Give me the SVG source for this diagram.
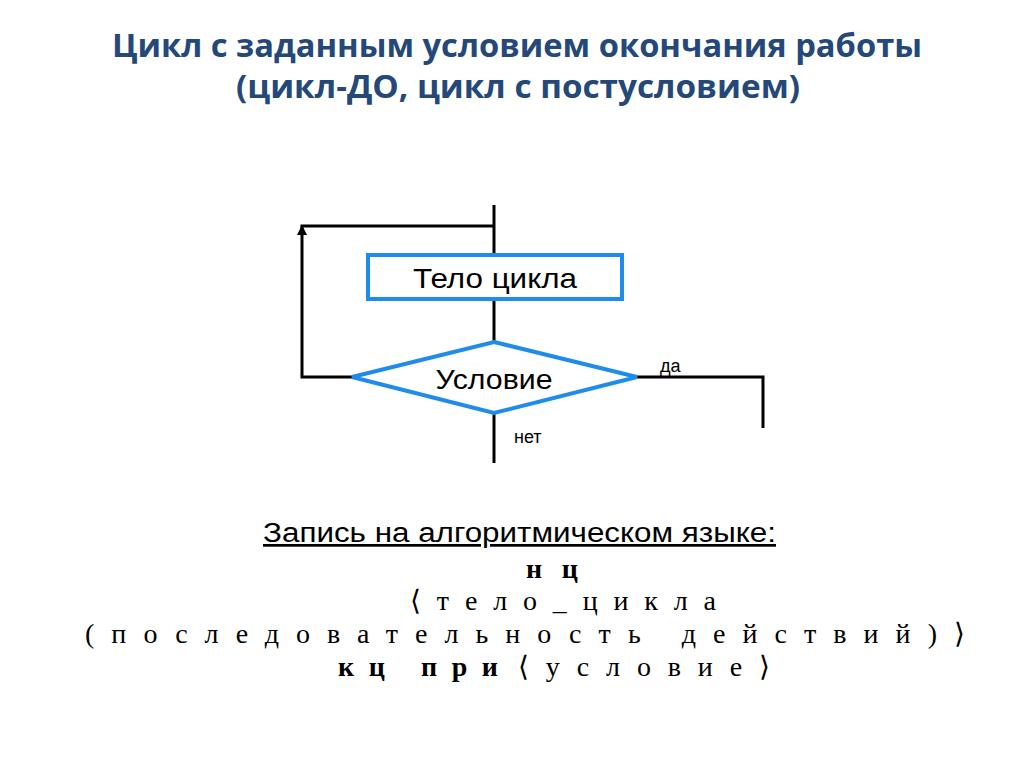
<svg xmlns="http://www.w3.org/2000/svg" width="1024" height="767" viewBox="0 0 1024 767">
<style>
.title{font-family:"Open Sans","Liberation Sans",sans-serif;font-weight:bold;font-size:32px;fill:#24487a;text-anchor:middle}
.conn{fill:none;stroke:#000;stroke-width:3}
.node{fill:#fff;stroke:#1f8ceb;stroke-width:4}
.lbl{font-family:"Liberation Sans",Arial,sans-serif;fill:#000}
.code{font-family:"Liberation Serif","Times New Roman",serif;font-size:28px;fill:#000}
.kw{font-weight:bold}
</style>
<defs>
<marker id="arr" viewBox="0 0 10 10" refX="9" refY="5" markerWidth="10" markerHeight="10" markerUnits="userSpaceOnUse" orient="auto">
<path d="M0,0 L10,5 L0,10 z" fill="#000"/>
</marker>
</defs>
<rect width="1024" height="767" fill="#fff"/>
<g id="title">
<text class="title" x="517" y="57" textLength="810" lengthAdjust="spacingAndGlyphs">Цикл с заданным условием окончания работы</text>
<text class="title" x="518" y="98" textLength="564" lengthAdjust="spacingAndGlyphs">(цикл-ДО, цикл с постусловием)</text>
</g>
<g id="connectors">
<line class="conn" x1="494" y1="205" x2="494" y2="255"/>
<line class="conn" x1="300.5" y1="226" x2="494" y2="226"/>
<line class="conn" x1="494" y1="299" x2="494" y2="342"/>
<polyline class="conn" points="352,377 302,377 302,226" marker-end="url(#arr)"/>
<polyline class="conn" points="637,377 763,377 763,428"/>
<line class="conn" x1="494" y1="413" x2="494" y2="463"/>
<text class="lbl" x="660" y="372" font-size="18">да</text>
<text class="lbl" x="514" y="443" font-size="18">нет</text>
</g>
<g id="body">
<rect class="node" x="368" y="255" width="254" height="44"/>
<text class="lbl" x="495" y="288" font-size="28" text-anchor="middle" textLength="164" lengthAdjust="spacingAndGlyphs">Тело цикла</text>
</g>
<g id="condition">
<polygon class="node" points="494,342 637,377 494,413 352,377"/>
<text class="lbl" x="494" y="389" font-size="28" text-anchor="middle" textLength="117" lengthAdjust="spacingAndGlyphs">Условие</text>
</g>
<g id="code">
<text class="lbl" x="263" y="542" font-size="27" textLength="513" lengthAdjust="spacingAndGlyphs" text-decoration="underline">Запись на алгоритмическом языке:</text>
<text class="code kw" x="526" y="578" textLength="52" lengthAdjust="spacing">нц</text>
<text class="code" x="410" y="610" textLength="306" lengthAdjust="spacing">⟨тело_цикла</text>
<text class="code" x="85" y="643" textLength="880" lengthAdjust="spacing">(последовательность действий)⟩</text>
<text class="code" y="676"><tspan class="kw" x="338" textLength="160" lengthAdjust="spacing">кц при</tspan><tspan x="518" textLength="252" lengthAdjust="spacing">⟨условие⟩</tspan></text>
</g>
</svg>
